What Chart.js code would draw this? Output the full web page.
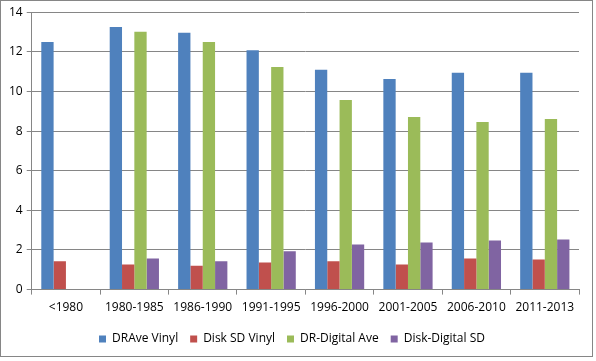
<!DOCTYPE html>
<html>
<head>
<meta charset="utf-8">
<script src="https://cdn.jsdelivr.net/npm/chart.js@4.4.1/dist/chart.umd.min.js"></script>
<style>
  html, body { margin: 0; padding: 0; background: #fff; }
  #box { position: absolute; left: 0; top: 0; width: 591px; height: 355px; border: 1px solid #868686; }
  canvas { display: block; }
</style>
</head>
<body>
<div id="box"><canvas id="chart" width="591" height="355"></canvas></div>
<script>
// periods along the x axis
const categories = ['<1980', '1980-1985', '1986-1990', '1991-1995', '1996-2000', '2001-2005', '2006-2010', '2011-2013'];

// values
const drAveVinyl = [12.5, 13.25, 12.96, 12.08, 11.09, 10.63, 10.94, 10.94];
const diskSdVinyl = [1.43, 1.27, 1.2, 1.37, 1.43, 1.27, 1.57, 1.52];
const drDigitalAve = [null, 13.01, 12.5, 11.24, 9.57, 8.71, 8.46, 8.61];
const diskDigitalSd = [null, 1.57, 1.43, 1.94, 2.28, 2.38, 2.48, 2.53];

const yTicks = [0, 2, 4, 6, 8, 10, 12, 14];

const font = { family: '"Open Sans", sans-serif', size: 12 };
const gridColor = '#868686';

const ctx = document.getElementById('chart').getContext('2d');
new Chart(ctx, {
  type: 'bar',
  data: {
    labels: categories,
    datasets: [
      { label: 'DRAve Vinyl', data: drAveVinyl, backgroundColor: '#4F81BD' },
      { label: 'Disk SD Vinyl', data: diskSdVinyl, backgroundColor: '#C0504D' },
      { label: 'DR-Digital Ave', data: drDigitalAve, backgroundColor: '#9BBB59' },
      { label: 'Disk-Digital SD', data: diskDigitalSd, backgroundColor: '#8064A2' }
    ]
  },
  options: {
    responsive: false,
    animation: false,
    datasets: { bar: { categoryPercentage: 0.72, barPercentage: 1 } },
    layout: { padding: { left: 4, right: 13, top: 10, bottom: 1 } },
    plugins: {
      tooltip: { enabled: false },
      legend: {
        position: 'bottom',
        labels: { font: font, color: '#000', boxWidth: 7, boxHeight: 7, padding: 12 }
      }
    },
    scales: {
      x: {
        grid: { display: true, drawOnChartArea: false, drawTicks: true, tickLength: 5, offset: true, color: gridColor },
        border: { color: gridColor },
        ticks: { font: font, color: '#000', maxRotation: 0, autoSkip: false, padding: 6 }
      },
      y: {
        min: 0,
        max: 14,
        afterBuildTicks: axis => { axis.ticks = yTicks.map(v => ({ value: v })); },
        grid: { color: gridColor, tickLength: 5 },
        border: { color: gridColor },
        ticks: { font: font, color: '#000', padding: 4 }
      }
    }
  }
});
</script>
</body>
</html>
